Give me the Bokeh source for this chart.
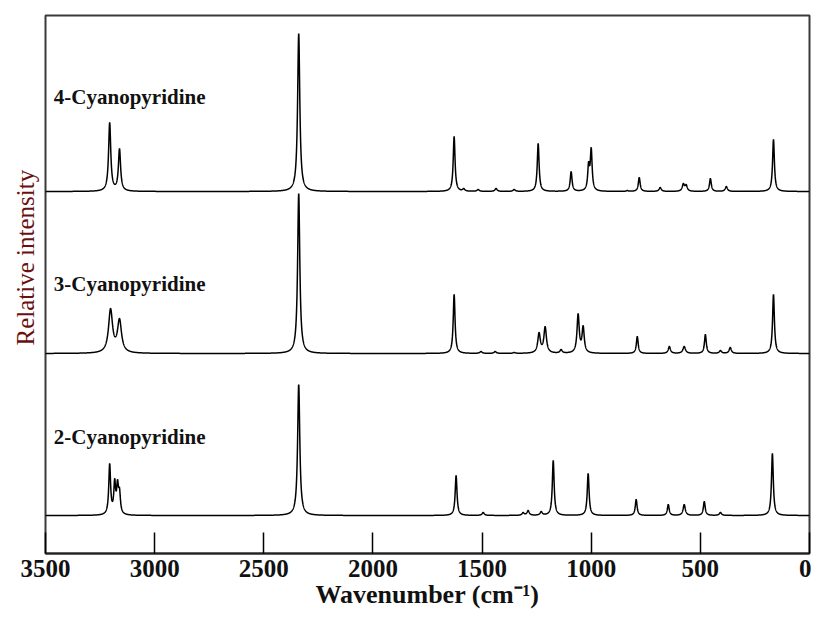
import numpy as np
from bokeh.plotting import figure
from bokeh.models import Range1d, FixedTicker, ColumnDataSource, Title
from bokeh.core.properties import value
from bokeh.embed import file_html
from bokeh.resources import INLINE

# ---- data (Raman peaks: position cm-1, height, half-width) ----
samples = ["4-Cyanopyridine", "3-Cyanopyridine", "2-Cyanopyridine"]
baselines = [362, 200, 38]

pos4 = [3206, 3161, 2340, 1628, 1584, 1518, 1436, 1353, 1243, 1092, 1012, 1000, 835, 780, 684, 578, 565, 454, 381, 165]
h4 = [69, 43, 158, 55, 3, 2, 3, 2, 48, 20, 30, 44, 1, 14, 4, 8, 7, 13, 5, 52]
w4 = [6, 6, 6, 5, 6, 6, 6, 6, 5, 5, 5, 5, 5, 5, 6, 6, 6, 5, 6, 5]

pos3 = [3202, 3161, 2340, 1628, 1505, 1440, 1353, 1239, 1211, 1138, 1060, 1037, 789, 642, 574, 477, 408, 363, 165]
h3 = [45, 35, 160, 59, 2, 2, 1, 21, 27, 4, 40, 28, 17, 7, 7, 19, 3, 6, 59]
w3 = [11, 11, 6, 5, 6, 6, 6, 7, 7, 6, 6, 6, 5, 6, 7, 5, 6, 6, 5]

pos2 = [3206, 3183, 3170, 3161, 2340, 1619, 1495, 1312, 1289, 1229, 1174, 1014, 794, 647, 574, 482, 408, 170]
h2 = [52, 37, 36, 28, 131, 40, 3, 3, 5, 4, 55, 42, 16, 11, 11, 14, 3, 62]
w2 = [5, 5, 5, 5, 6, 5, 6, 6, 6, 6, 5, 5, 5, 5, 6, 5, 6, 5]

label_x = [3462, 3462, 3462]
label_y = [457, 270, 117]

x_ticks = [3500, 3000, 2500, 2000, 1500, 1000, 500, 0]

wn = np.arange(0, 3500.5, 0.5)


def spectrum(centers, heights, widths, base):
    c = np.array(centers, float)
    h = np.array(heights, float)
    g = np.array(widths, float)
    M = 1.0 / (1.0 + ((c[:, None] - c[None, :]) / g[None, :]) ** 2)
    A = np.clip(np.linalg.solve(M, h), 0.2, None)
    prof = A[None, :] / (1.0 + ((wn[:, None] - c[None, :]) / g[None, :]) ** 2)
    return base + prof.sum(axis=1)


FONT = "Liberation Serif"

p = figure(width=811, height=617, x_range=Range1d(3500, 0), y_range=Range1d(0, 538),
           output_backend="svg", toolbar_location=None,
           min_border_left=45, min_border_right=2, min_border_top=15, min_border_bottom=64)
p.grid.visible = False
p.yaxis.visible = False
p.outline_line_color = "#3a3a3a"
p.outline_line_width = 2
p.background_fill_color = "white"
p.border_fill_color = "white"

for pos, hh, ww, b in [(pos4, h4, w4, baselines[0]), (pos3, h3, w3, baselines[1]), (pos2, h2, w2, baselines[2])]:
    p.line(wn, spectrum(pos, hh, ww, b), line_color="black", line_width=1.5)

src = ColumnDataSource(dict(x=label_x, y=label_y, name=samples))
p.text(x="x", y="y", text="name", source=src, text_font=value(FONT), text_font_style="bold",
       text_font_size="21px", text_baseline="middle", text_align="left", text_color="#111111")

xa = p.xaxis[0]
xa.ticker = FixedTicker(ticks=x_ticks)
xa.major_tick_in = 21
xa.major_tick_out = 0
xa.minor_tick_line_color = None
xa.axis_line_width = 2
xa.axis_line_color = "#222222"
xa.major_tick_line_width = 1.5
xa.major_label_text_font = FONT
xa.major_label_text_font_style = "bold"
xa.major_label_text_font_size = "25px"
xa.major_label_text_color = "#111111"
xa.major_label_standoff = 6
xa.axis_label = "Wavenumber (cm\u207b\u00b9)"
xa.axis_label_text_font = FONT
xa.axis_label_text_font_style = "bold"
xa.axis_label_text_font_size = "26px"
xa.axis_label_text_color = "#111111"
xa.axis_label_standoff = 0

yt = Title(text="Relative intensity", align="left", offset=208, standoff=14,
           text_font=FONT, text_font_style="normal", text_font_size="25px", text_color="#6a1010")
p.add_layout(yt, "left")

open("out.html", "w").write(file_html(p, INLINE))
